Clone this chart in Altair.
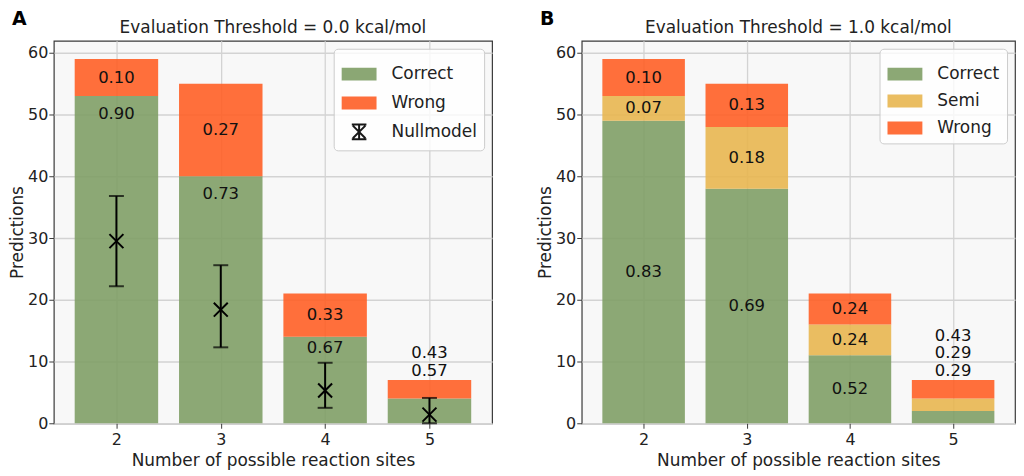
import altair as alt
import pandas as pd

# ---------------- data ----------------
sites = [2, 3, 4, 5]
a_correct = [53, 40, 14, 4]
a_wrong = [6, 15, 7, 3]
null_mean = [29.5, 18.4, 5.3, 1.4]
null_low = [22.2, 12.3, 2.5, 0.0]
null_high = [36.8, 25.6, 9.8, 4.1]
b_correct = [49, 38, 11, 2]
b_semi = [4, 10, 5, 2]
b_wrong = [6, 7, 5, 3]

title_a = "Evaluation Threshold = 0.0 kcal/mol"
title_b = "Evaluation Threshold = 1.0 kcal/mol"
x_title = "Number of possible reaction sites"
y_title = "Predictions"
y_ticks = [0, 10, 20, 30, 40, 50, 60]

# ---------------- style ----------------
FONT = "DejaVu Sans"
GREEN, YELLOW, ORANGE, BLACK = "#7f9e66", "#e8b650", "#ff5f26", "#000000"
BAR_OPACITY = 0.9
WA, WB, H = 440, 435, 384
RECT = "M-1,-0.37H1V0.37H-1Z"
ERRSYM = ("M-0.42,-0.42H0.42M0,-0.42V0.42M-0.42,0.42H0.42"
          "M-0.36,-0.36L0.36,0.36M-0.36,0.36L0.36,-0.36")
XPATH = "M-1,-1L1,1M-1,1L1,-1"


def stack(names, values, panel):
    rows = []
    for i, s in enumerate(sites):
        total = sum(v[i] for v in values)
        base = 0
        for k, (name, vals) in enumerate(zip(names, values)):
            v = vals[i]
            if total < 10:
                ly = total + 1.5 + 2.8 * k
            elif panel == "A" and name == "Correct":
                ly = base + v - min(2.9, 0.13 * v)
            else:
                ly = base + v / 2
            rows.append(dict(site=s, series=name, order=k, y0=base, y1=base + v,
                             x0=s - 0.4, x1=s + 0.4,
                             label=f"{v / total:.2f}", ly=ly))
            base += v
    return pd.DataFrame(rows)


def make_legend(symbol_type=None):
    kw = dict(
        title=None, orient="top-right", offset=8, labelFontSize=17, labelFont=FONT,
        labelColor="#222222", symbolSize=1225, labelOffset=14,
        rowPadding=-12, padding=7, fillColor="rgba(255,255,255,0.8)",
        strokeColor="#cccccc", cornerRadius=4, symbolStrokeWidth=2,
        symbolOpacity=BAR_OPACITY,
    )
    if symbol_type:
        kw["symbolType"] = symbol_type
    return alt.Legend(**kw)


def axes():
    x = alt.X("x0:Q", scale=alt.Scale(domain=[1.4, 5.6], nice=False, zero=False),
              axis=alt.Axis(values=sites, format="d", title=x_title,
                            labelPadding=3, titlePadding=5))
    y = alt.Y("y0:Q", scale=alt.Scale(domain=[0, 61.95], nice=False), title=y_title,
              axis=alt.Axis(values=y_ticks, title=y_title, labelPadding=1, titlePadding=1))
    return x, y


def head_layers(letter, title, w):
    d = pd.DataFrame({"t": [letter], "h": [title]})
    let = alt.Chart(d).mark_text(
        font=FONT, fontSize=19, fontWeight="bold", align="left",
        baseline="alphabetic", color="#000000").encode(
        x=alt.value(-42), y=alt.value(-16), text="t:N")
    tit = alt.Chart(d).mark_text(
        font=FONT, fontSize=17, align="center", baseline="alphabetic",
        color="#222222").encode(x=alt.value(w / 2), y=alt.value(-8), text="h:N")
    return [let, tit]


def label_layer(df):
    return alt.Chart(df).mark_text(font=FONT, fontSize=16.5, color="#111111").encode(
        x=alt.X("site:Q", title=x_title), y=alt.Y("ly:Q", title=y_title), text="label:N")


df_a = stack(["Correct", "Wrong"], [a_correct, a_wrong], "A")
df_b = stack(["Correct", "Semi", "Wrong"], [b_correct, b_semi, b_wrong], "B")
null_df = pd.DataFrame({"site": sites, "mean": null_mean, "low": null_low,
                        "high": null_high, "series": ["Nullmodel"] * len(sites)})

# ----- panel A -----
dom_a = ["Correct", "Wrong", "Nullmodel"]
leg_a = make_legend()
fill_a = alt.Scale(domain=dom_a, range=[GREEN, ORANGE, "transparent"])
stroke_a = alt.Scale(domain=dom_a, range=["transparent", "transparent", BLACK])
shape_a = alt.Scale(domain=dom_a, range=[RECT, RECT, ERRSYM])
xa, ya = axes()
bars_a = alt.Chart(df_a).mark_bar(opacity=BAR_OPACITY).encode(
    x=xa, x2="x1:Q", y=ya, y2="y1:Q",
    fill=alt.Fill("series:N", scale=fill_a, legend=leg_a), order="order:Q")
err_a = alt.Chart(null_df).mark_errorbar(
    ticks={"size": 15, "thickness": 2, "color": BLACK},
    rule={"strokeWidth": 2, "color": BLACK}).encode(
    x=alt.X("site:Q", title=x_title), y=alt.Y("low:Q", title=y_title), y2="high:Q")
pts_a = alt.Chart(null_df).mark_point(
    shape=XPATH, filled=False, size=196, strokeWidth=2, color=BLACK, opacity=1).encode(
    x=alt.X("site:Q", title=x_title), y=alt.Y("mean:Q", title=y_title))
key_a = alt.Chart(null_df).mark_point(filled=True, opacity=0, size=1225).encode(
    x=alt.X("site:Q", title=x_title), y=alt.Y("mean:Q", title=y_title),
    fill=alt.Fill("series:N", scale=fill_a, legend=leg_a),
    stroke=alt.Stroke("series:N", scale=stroke_a, legend=leg_a),
    shape=alt.Shape("series:N", scale=shape_a, legend=leg_a))
pa = alt.layer(bars_a, err_a, pts_a, key_a, label_layer(df_a),
               *head_layers("A", title_a, WA)).properties(width=WA, height=H)

# ----- panel B -----
dom_b = ["Correct", "Semi", "Wrong"]
xb, yb = axes()
bars_b = alt.Chart(df_b).mark_bar(opacity=BAR_OPACITY).encode(
    x=xb, x2="x1:Q", y=yb, y2="y1:Q",
    color=alt.Color("series:N", scale=alt.Scale(domain=dom_b, range=[GREEN, YELLOW, ORANGE]),
                    legend=make_legend(RECT)),
    order="order:Q")
pb = alt.layer(bars_b, label_layer(df_b),
               *head_layers("B", title_b, WB)).properties(width=WB, height=H)

chart = alt.hconcat(pa, pb, spacing=43,
                    padding={"left": 0, "top": 0, "right": 0, "bottom": 0}
).resolve_scale(color="independent", fill="independent",
                stroke="independent", shape="independent"
).resolve_legend(color="independent", fill="independent",
                 stroke="independent", shape="independent"
).configure_view(fill="#f8f8f8", stroke="#3a3a3a", strokeWidth=1.2
).configure_axis(
    labelFont=FONT, titleFont=FONT, labelFontSize=16, titleFontSize=17,
    titleFontWeight="normal", labelColor="#222222", titleColor="#222222",
    tickColor="#3a3a3a", tickSize=5, domain=False,
    gridColor="#d3d3d3", gridWidth=1.3,
)

chart.save("out.html", embed_options={"renderer": "svg", "actions": False})
